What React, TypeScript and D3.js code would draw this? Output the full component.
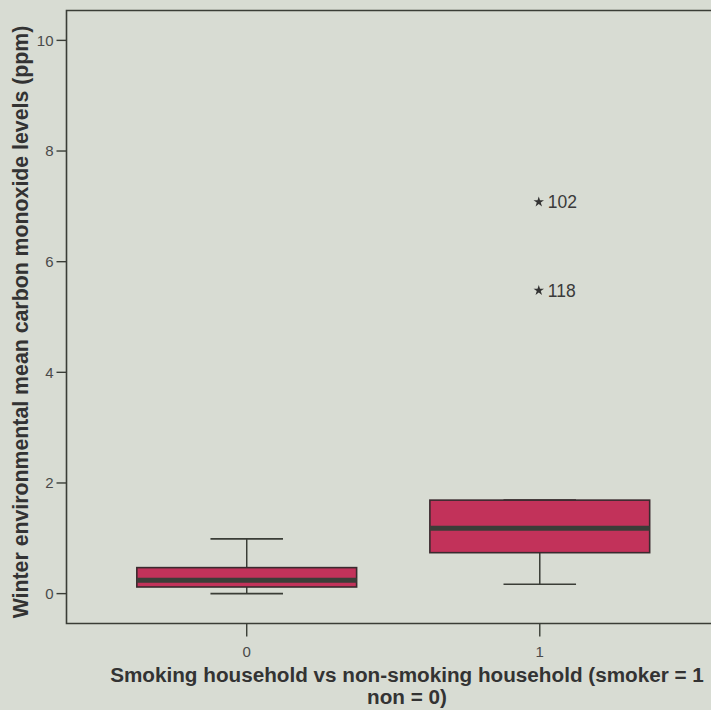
import React from "react";
import * as d3 from "d3";

const categories = ["0", "1"];
const whiskerLow = [0.0, 0.17];
const q1 = [0.12, 0.74];
const median = [0.24, 1.18];
const q3 = [0.47, 1.69];
const whiskerHigh = [0.99, 1.69];
const outlierCategory = ["1", "1"];
const outlierValues = [7.08, 5.48];
const outlierLabels = ["102", "118"];
const yTicks = [0, 2, 4, 6, 8, 10];

const W = 711;
const H = 710;
const left = 66.5;
const top = 10.5;
const bottom = 623.5;
const right = 720;

export default function App() {
  const x = d3
    .scaleBand<string>()
    .domain(categories)
    .range([left, right])
    .paddingInner(0.25)
    .paddingOuter(0.24);
  const y = d3.scaleLinear().domain([-0.54, 10.54]).range([bottom, top]);
  const bw = x.bandwidth();
  const capW = bw * 0.33;
  const font = "'Liberation Sans', Arial, sans-serif";
  const star = d3.symbol().type(d3.symbolStar).size(34)();
  const axisColor = "#3a3d36";

  return (
    <svg
      width={W}
      height={H}
      style={{ position: "absolute", left: 0, top: 0, display: "block" }}
    >
      <rect x={0} y={0} width={W} height={H} fill="#d8dcd3" />
      {/* frame */}
      <path
        d={`M${W + 5},${top} H${left} V${bottom} H${W + 5}`}
        fill="none"
        stroke={axisColor}
        strokeWidth={1.6}
      />
      {/* y ticks */}
      {yTicks.map((t) => (
        <g key={t}>
          <line x1={left - 10} x2={left} y1={y(t)} y2={y(t)} stroke={axisColor} strokeWidth={1.4} />
          <text
            x={left - 13}
            y={y(t)}
            dy="0.36em"
            textAnchor="end"
            fontFamily={font}
            fontSize={15}
            fill="#4a4a4a"
          >
            {t}
          </text>
        </g>
      ))}
      {/* x ticks */}
      {categories.map((c) => {
        const cx = (x(c) as number) + bw / 2;
        return (
          <g key={c}>
            <line x1={cx} x2={cx} y1={bottom} y2={bottom + 13} stroke={axisColor} strokeWidth={1.4} />
            <text
              x={cx}
              y={bottom + 33}
              textAnchor="middle"
              fontFamily={font}
              fontSize={15}
              fill="#4a4a4a"
            >
              {c}
            </text>
          </g>
        );
      })}
      {/* boxes */}
      {categories.map((c, i) => {
        const x0 = x(c) as number;
        const cx = x0 + bw / 2;
        return (
          <g key={"b" + c}>
            <line x1={cx} x2={cx} y1={y(whiskerHigh[i])} y2={y(q3[i])} stroke={axisColor} strokeWidth={1.5} />
            <line x1={cx} x2={cx} y1={y(q1[i])} y2={y(whiskerLow[i])} stroke={axisColor} strokeWidth={1.5} />
            <line x1={cx - capW / 2} x2={cx + capW / 2} y1={y(whiskerHigh[i])} y2={y(whiskerHigh[i])} stroke={axisColor} strokeWidth={1.6} />
            <line x1={cx - capW / 2} x2={cx + capW / 2} y1={y(whiskerLow[i])} y2={y(whiskerLow[i])} stroke={axisColor} strokeWidth={1.6} />
            <rect
              x={x0}
              y={y(q3[i])}
              width={bw}
              height={y(q1[i]) - y(q3[i])}
              fill="#c2325a"
              stroke="#3a2a2e"
              strokeWidth={1.6}
            />
            <line
              x1={x0}
              x2={x0 + bw}
              y1={y(median[i])}
              y2={y(median[i])}
              stroke="#3b3d38"
              strokeWidth={5}
            />
          </g>
        );
      })}
      {/* outliers */}
      {outlierValues.map((v, i) => {
        const cx = (x(outlierCategory[i]) as number) + bw / 2;
        return (
          <g key={"o" + i}>
            <path d={star as string} transform={`translate(${cx - 1},${y(v)})`} fill="#333" />
            <text
              x={cx + 8}
              y={y(v)}
              dy="0.36em"
              fontFamily={font}
              fontSize={17.5}
              fill="#3a3a3a"
            >
              {outlierLabels[i]}
            </text>
          </g>
        );
      })}
      {/* axis titles */}
      <text
        transform={`translate(28,322) rotate(-90)`}
        textAnchor="middle"
        fontFamily={font}
        fontWeight="bold"
        fontSize={21.3}
        fill="#333"
      >
        Winter environmental mean carbon monoxide levels (ppm)
      </text>
      <text
        x={407}
        y={682}
        textAnchor="middle"
        fontFamily={font}
        fontWeight="bold"
        fontSize={20.7}
        fill="#333"
      >
        Smoking household vs non-smoking household (smoker = 1
      </text>
      <text
        x={407}
        y={704}
        textAnchor="middle"
        fontFamily={font}
        fontWeight="bold"
        fontSize={20.7}
        fill="#333"
      >
        non = 0)
      </text>
    </svg>
  );
}
